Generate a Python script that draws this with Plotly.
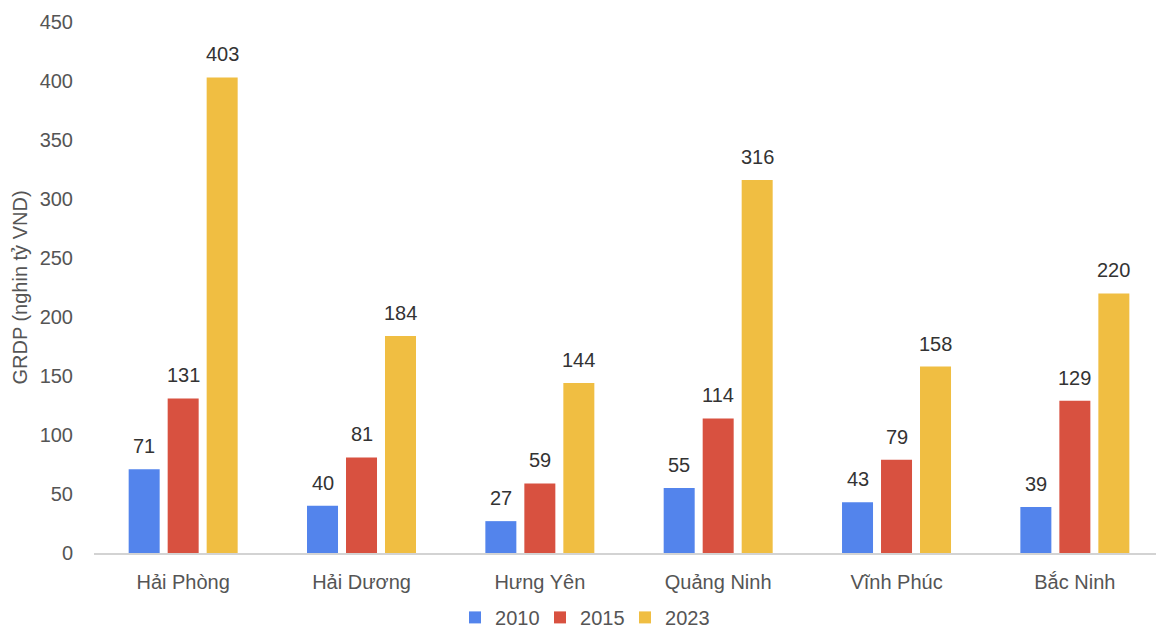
import plotly.graph_objects as go

provinces = ["Hải Phòng", "Hải Dương", "Hưng Yên", "Quảng Ninh", "Vĩnh Phúc", "Bắc Ninh"]
years = ["2010", "2015", "2023"]
grdp_2010 = [71, 40, 27, 55, 43, 39]
grdp_2015 = [131, 81, 59, 114, 79, 129]
grdp_2023 = [403, 184, 144, 316, 158, 220]
y_ticks = [0, 50, 100, 150, 200, 250, 300, 350, 400, 450]

colors = ["#5384EC", "#D85140", "#F0BE42"]
series = [grdp_2010, grdp_2015, grdp_2023]

FONT = "Liberation Sans, Arial, Helvetica, sans-serif"
SIZE = 20
BAR_GAP = 0.344
GROUP_GAP = 0.205

fig = go.Figure()
for name, vals, col in zip(years, series, colors):
    fig.add_trace(go.Bar(
        x=provinces, y=vals, name=name,
        marker=dict(color=col, line=dict(width=0)),
        hoverinfo="x+y+name",
    ))

# value labels above each bar, positioned at the grouped-bar slot centres
slot = (1 - BAR_GAP) / len(years)
annotations = []
for k, vals in enumerate(series):
    offset = (k - (len(years) - 1) / 2) * slot
    for i, v in enumerate(vals):
        annotations.append(dict(
            x=i + offset, y=v, xref="x", yref="y",
            text=str(v), showarrow=False,
            yanchor="bottom", yshift=10,
            font=dict(family=FONT, size=SIZE, color="#333333"),
        ))

fig.update_layout(
    width=1156, height=630,
    margin=dict(l=94, r=0, t=22, b=77, autoexpand=False),
    paper_bgcolor="white", plot_bgcolor="white",
    barmode="group", bargap=BAR_GAP, bargroupgap=GROUP_GAP,
    font=dict(family=FONT, size=SIZE, color="#555555"),
    annotations=annotations,
    showlegend=True,
    legend=dict(
        orientation="h", x=0.46, xanchor="center",
        yref="container", y=0.02, yanchor="middle",
        font=dict(family=FONT, size=SIZE, color="#555555"),
        itemwidth=30, entrywidth=40, tracegroupgap=0,
    ),
    xaxis=dict(
        type="category",
        range=[-0.5, 5.455],
        showline=True, linecolor="#d3d3d3", linewidth=2,
        showgrid=False, zeroline=False,
        ticks="outside", ticklen=10, tickcolor="rgba(0,0,0,0)",
        tickfont=dict(family=FONT, size=SIZE, color="#555555"),
    ),
    yaxis=dict(
        range=[0, 450], tickvals=y_ticks,
        showgrid=False, zeroline=False, showline=False,
        ticks="outside", ticklen=16, tickcolor="rgba(0,0,0,0)",
        tickfont=dict(family=FONT, size=SIZE, color="#555555"),
        title=dict(text="GRDP (nghin tỷ VND)", standoff=6,
                   font=dict(family=FONT, size=SIZE, color="#555555")),
    ),
)

fig.write_html("out.html")
